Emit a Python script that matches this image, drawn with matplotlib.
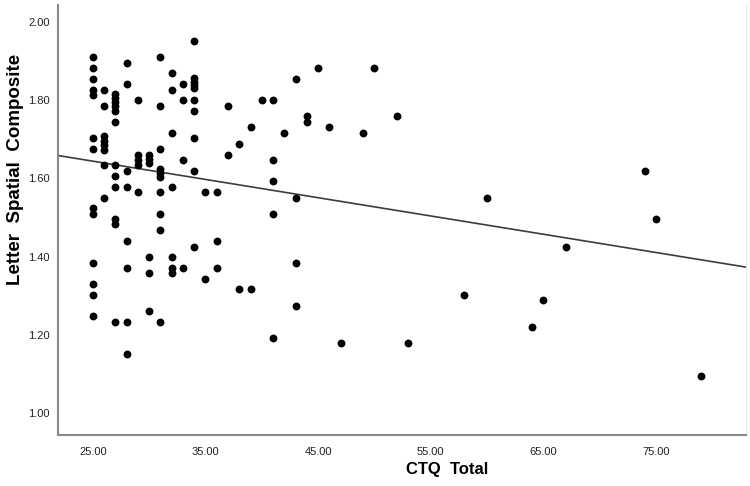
import matplotlib.pyplot as plt
import numpy as np

plt.rcParams['font.family'] = ['Liberation Sans', 'DejaVu Sans']

# CTQ total score and letter spatial composite, one row per CTQ value
ctq_total = (
    [25] * 13 + [26] * 8 + [27] * 12 + [28] * 8 + [29] * 5 + [30] * 6 +
    [31] * 10 + [32] * 7 + [33] * 4 + [34] * 10 + [35] * 2 + [36] * 3 +
    [37] * 2 + [38] * 2 + [39] * 2 + [40] + [41] * 5 + [42] + [43] * 4 +
    [44] * 2 + [45, 46, 47, 49, 50, 52, 53, 58, 60, 64, 65, 67, 74, 75, 79]
)
letter_spatial = [
    1.909, 1.882, 1.853, 1.826, 1.813, 1.703, 1.675, 1.524, 1.509, 1.384, 1.329, 1.302, 1.247,  # 25
    1.826, 1.785, 1.707, 1.696, 1.684, 1.673, 1.633, 1.550,  # 26
    1.815, 1.804, 1.794, 1.784, 1.773, 1.743, 1.633, 1.606, 1.577, 1.495, 1.483, 1.233,  # 27
    1.895, 1.840, 1.619, 1.577, 1.440, 1.371, 1.233, 1.150,  # 28
    1.799, 1.660, 1.647, 1.634, 1.564,  # 29
    1.660, 1.649, 1.639, 1.398, 1.357, 1.261,  # 30
    1.909, 1.785, 1.675, 1.624, 1.614, 1.604, 1.564, 1.509, 1.467, 1.233,  # 31
    1.868, 1.826, 1.715, 1.577, 1.398, 1.371, 1.357,  # 32
    1.840, 1.799, 1.647, 1.371,  # 33
    1.950, 1.856, 1.847, 1.839, 1.830, 1.799, 1.771, 1.703, 1.619, 1.425,  # 34
    1.564, 1.343,  # 35
    1.564, 1.440, 1.371,  # 36
    1.784, 1.660,  # 37
    1.688, 1.316,  # 38
    1.730, 1.316,  # 39
    1.799,  # 40
    1.799, 1.647, 1.592, 1.509, 1.193,  # 41
    1.715,  # 42
    1.853, 1.550, 1.384, 1.274,  # 43
    1.758, 1.744,  # 44
    1.881, 1.730, 1.178, 1.715, 1.881, 1.758, 1.178, 1.302, 1.550,
    1.219, 1.288, 1.425, 1.619, 1.495, 1.095,
]

x_ticks = [25, 35, 45, 55, 65, 75]
y_ticks = [1.0, 1.2, 1.4, 1.6, 1.8, 2.0]

x = np.array(ctq_total, dtype=float)
y = np.array(letter_spatial)
slope, intercept = np.polyfit(x, y, 1)

fig = plt.figure(figsize=(7.5, 4.86), dpi=100)
ax = fig.add_axes([0.0773, 0.105, 0.9174, 0.8848])

ax.scatter(x, y, s=32, color='black', zorder=3, linewidths=0)

xlim = (21.9, 83.0)
xl = np.array(xlim)
ax.plot(xl, intercept + slope * xl, color='#3c3c3c', lw=1.2, zorder=2)

ax.set_xlim(*xlim)
ax.set_ylim(0.944, 2.043)
ax.set_xticks(x_ticks)
ax.set_yticks(y_ticks)
ax.set_xticklabels([f"{t:.2f}" for t in x_ticks])
ax.set_yticklabels([f"{t:.2f}" for t in y_ticks])
ax.tick_params(length=0, labelsize=8, labelcolor='#222222')
ax.tick_params(axis='x', pad=9)
ax.tick_params(axis='y', pad=6)

ax.spines['top'].set_visible(False)
ax.spines['right'].set_color('#e4e4e4')
for s in ['left', 'bottom']:
    ax.spines[s].set_color('#8a8a8a')
    ax.spines[s].set_linewidth(1.5)

ax.set_xlabel("CTQ  Total", fontsize=12, fontweight='bold')
ax.set_ylabel("Letter  Spatial  Composite", fontsize=13.5, fontweight='bold')
ax.xaxis.set_label_coords(0.565, -0.063)
ax.yaxis.set_label_coords(-0.05, 0.617)

fig.savefig('out.png', dpi=100)
